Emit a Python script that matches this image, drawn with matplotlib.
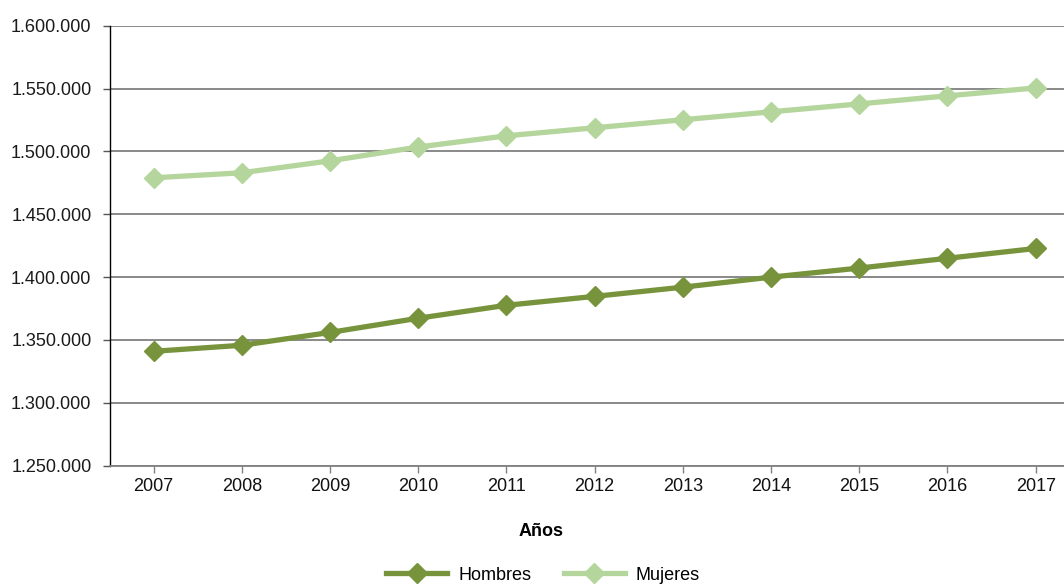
import matplotlib
matplotlib.use("Agg")
import matplotlib.pyplot as plt
from matplotlib.ticker import FuncFormatter

years = ["2007", "2008", "2009", "2010", "2011", "2012", "2013", "2014", "2015", "2016", "2017"]
hombres = [1341000, 1345800, 1356000, 1367300, 1377600, 1384700, 1392000, 1400000, 1407200, 1415000, 1422800]
mujeres = [1479000, 1483000, 1492500, 1503500, 1512400, 1518800, 1525200, 1531500, 1537800, 1544200, 1550500]
series_names = ["Hombres", "Mujeres"]
colors = ["#77933C", "#B4D59C"]
xlabel = "Años"

plt.rcParams['font.family'] = ['Liberation Sans', 'DejaVu Sans']

fig = plt.figure(figsize=(10.64, 5.84), dpi=100)
ax = fig.add_axes([109.5 / 1064, 1 - 465.7 / 584, 1 - 109.5 / 1064, (465.7 - 25.7) / 584])

x = list(range(len(years)))
lines = []
for vals, name, c in zip([hombres, mujeres], series_names, colors):
    ln, = ax.plot(x, vals, color=c, lw=3.8, marker='D', ms=10.5, mec=c, mfc=c,
                  label=name, zorder=3, clip_on=False)
    lines.append(ln)

ax.set_ylim(1250000, 1600000)
ax.set_yticks(range(1250000, 1600001, 50000))
ax.yaxis.set_major_formatter(FuncFormatter(lambda v, p: f"{int(v):,}".replace(",", ".")))
ax.set_xlim(-0.5, (1064 - 153.3) / 88.24)
ax.set_xticks(x)
ax.set_xticklabels(years)

ax.grid(axis='y', color='#808080', lw=1.3, zorder=1)
ax.set_axisbelow(True)
for s in ['top', 'right']:
    ax.spines[s].set_visible(False)
ax.spines['left'].set_color('#000000')
ax.spines['left'].set_linewidth(1.0)
ax.spines['bottom'].set_color('#808080')
ax.spines['bottom'].set_linewidth(1.3)

ax.tick_params(axis='y', length=5, width=1, color='#555555', labelsize=13, pad=8, labelcolor='#1a1a1a')
ax.tick_params(axis='x', length=5, width=1, color='#808080', labelsize=13, pad=4, labelcolor='#111111')

fig.text(541 / 1064, 1 - 531 / 584, xlabel, ha='center', va='center', fontsize=13, fontweight='bold')

fig.legend(handles=lines, labels=series_names, loc='center', bbox_to_anchor=(543 / 1064, 1 - 575 / 584),
           ncol=2, frameon=False, fontsize=13, handlelength=3.4, handletextpad=0.6, columnspacing=1.8,
           borderpad=0, borderaxespad=0)

fig.savefig("out.png", dpi=100)
